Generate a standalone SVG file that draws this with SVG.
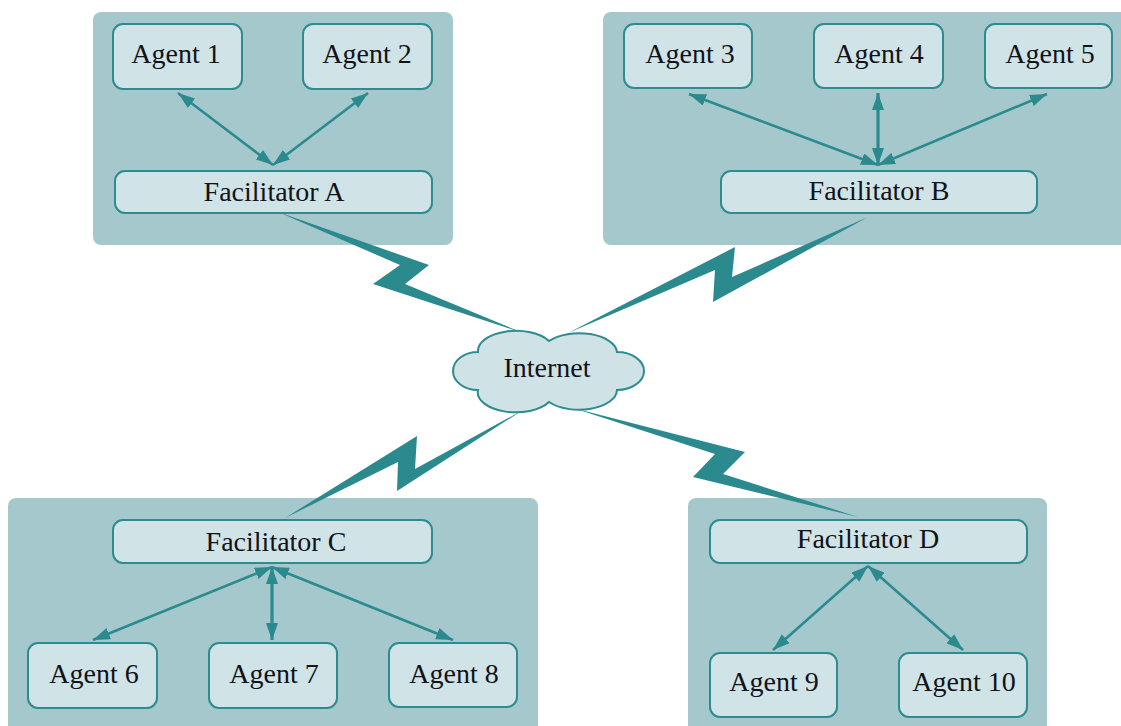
<svg xmlns="http://www.w3.org/2000/svg" width="1121" height="726" viewBox="0 0 1121 726">
  <defs>
    <style>
      .cluster { fill: #a4c8cc; }
      .box { fill: #d0e3e7; stroke: #2e8b90; stroke-width: 2; }
      .label { font-family: 'Liberation Serif', 'Times New Roman', serif; font-size: 28px; fill: #121218; text-anchor: middle; }
      .link { stroke: #2b8a8e; stroke-width: 2.5; fill: none; }
      .link.v { stroke-width: 3.2; }
      .bolt { fill: #2b8a8e; }
      .cloud { fill: #cfe2e6; stroke: #2e8b90; stroke-width: 2; }
    </style>
    <marker id="ah" viewBox="0 0 17 12" refX="17" refY="6" markerWidth="17" markerHeight="12" markerUnits="userSpaceOnUse" orient="auto-start-reverse">
      <path d="M0,0 L17,6 L0,12 z" fill="#2b8a8e"/>
    </marker>
  </defs>

  <rect width="1121" height="726" fill="#ffffff"/>

  <!-- site backgrounds -->
  <g id="sites">
    <rect class="cluster" x="93" y="12" width="360" height="233" rx="8"/>
    <rect class="cluster" x="603" y="12" width="540" height="233" rx="8"/>
    <rect class="cluster" x="8" y="498" width="530" height="250" rx="8"/>
    <rect class="cluster" x="688" y="498" width="359" height="250" rx="8"/>
  </g>

  <!-- connectors: WAN bolts and local agent links -->
  <g id="connectors">
    <polygon class="bolt" points="278,212 429,265 405,284 523,333 373,284 400,265"/>
    <polygon class="bolt" points="868,217 732,277 735,247 568,333 715,270 713,302"/>
    <polygon class="bolt" points="523,410 415,469 417,436 285,518 398,462 397,491"/>
    <polygon class="bolt" points="573,408 745,452 723,474 858,517 693,477 715,454"/>

    <g marker-start="url(#ah)" marker-end="url(#ah)">
      <line class="link" x1="178" y1="93" x2="273" y2="165"/>
      <line class="link" x1="368" y1="93" x2="273" y2="165"/>
      <line class="link" x1="689" y1="94" x2="878" y2="165"/>
      <line class="link v" x1="878" y1="93" x2="878" y2="165"/>
      <line class="link" x1="1047" y1="94" x2="878" y2="165"/>
      <line class="link" x1="272" y1="567" x2="93" y2="640"/>
      <line class="link v" x1="272" y1="567" x2="272" y2="640"/>
      <line class="link" x1="272" y1="567" x2="453" y2="640"/>
      <line class="link" x1="868" y1="566" x2="773" y2="650"/>
      <line class="link" x1="868" y1="566" x2="963" y2="650"/>
    </g>
  </g>

  <g id="internet">
    <path class="cloud" d="M478,352 A38,20 0 0 1 549,341 A38,20 0 0 1 617,352 A27,19 0 0 1 617,390 A38,20 0 0 1 549,402 A38,20 0 0 1 478,390 A25,19 0 0 1 478,352 Z"/>
    <text class="label" x="547" y="377">Internet</text>
  </g>

  <g id="facilitator-a">
    <rect class="box" x="115" y="171" width="317" height="42" rx="10"/>
    <text class="label" x="274" y="201">Facilitator A</text>
  </g>
  <g id="agent-1">
    <rect class="box" x="113" y="24" width="129" height="65" rx="10"/>
    <text class="label" x="176" y="63">Agent 1</text>
  </g>
  <g id="agent-2">
    <rect class="box" x="303" y="24" width="129" height="65" rx="10"/>
    <text class="label" x="367" y="63">Agent 2</text>
  </g>

  <g id="facilitator-b">
    <rect class="box" x="721" y="171" width="316" height="42" rx="10"/>
    <text class="label" x="879" y="200">Facilitator B</text>
  </g>
  <g id="agent-3">
    <rect class="box" x="624" y="24" width="128" height="64" rx="10"/>
    <text class="label" x="690" y="63">Agent 3</text>
  </g>
  <g id="agent-4">
    <rect class="box" x="814" y="24" width="129" height="64" rx="10"/>
    <text class="label" x="879" y="63">Agent 4</text>
  </g>
  <g id="agent-5">
    <rect class="box" x="985" y="24" width="127" height="64" rx="10"/>
    <text class="label" x="1050" y="63">Agent 5</text>
  </g>

  <g id="facilitator-c">
    <rect class="box" x="113" y="520" width="319" height="43" rx="10"/>
    <text class="label" x="276" y="551">Facilitator C</text>
  </g>
  <g id="agent-6">
    <rect class="box" x="28" y="643" width="129" height="65" rx="10"/>
    <text class="label" x="94" y="683">Agent 6</text>
  </g>
  <g id="agent-7">
    <rect class="box" x="209" y="643" width="128" height="65" rx="10"/>
    <text class="label" x="274" y="683">Agent 7</text>
  </g>
  <g id="agent-8">
    <rect class="box" x="389" y="643" width="128" height="64" rx="10"/>
    <text class="label" x="454" y="683">Agent 8</text>
  </g>

  <g id="facilitator-d">
    <rect class="box" x="710" y="520" width="317" height="43" rx="10"/>
    <text class="label" x="868" y="548">Facilitator D</text>
  </g>
  <g id="agent-9">
    <rect class="box" x="710" y="653" width="127" height="64" rx="10"/>
    <text class="label" x="774" y="691">Agent 9</text>
  </g>
  <g id="agent-10">
    <rect class="box" x="899" y="653" width="128" height="64" rx="10"/>
    <text class="label" x="964" y="691">Agent 10</text>
  </g>
</svg>
